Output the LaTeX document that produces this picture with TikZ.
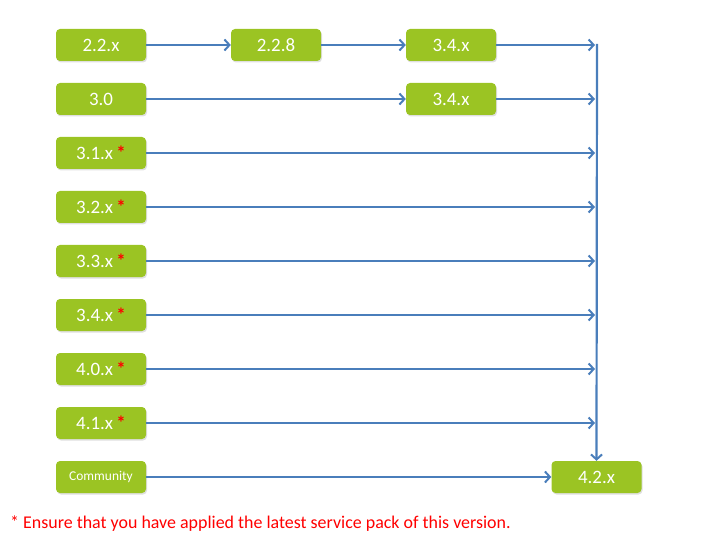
\documentclass[tikz,border=0pt]{standalone}
\usepackage{fontspec}
\setmainfont{Carlito}
\usetikzlibrary{arrows.meta,shadows}
\definecolor{vergreen}{HTML}{9BC423}
\definecolor{linkblue}{HTML}{4A7EBB}
\newcommand\redstar{\,\textcolor{red}{\textbf{*}}}
\begin{document}
\begin{tikzpicture}[x=1bp,y=-1bp,
  verstyle/.style={rectangle,rounded corners=4bp,fill=vergreen,text=white,minimum width=90bp,minimum height=32bp,inner sep=0pt,font=\fontsize{19}{22}\selectfont,drop shadow={opacity=0.25,shadow xshift=1bp,shadow yshift=-1.5bp}},
  linkstyle/.style={draw=linkblue,line width=2.2bp,-{Straight Barb[length=5bp,width=11bp,line width=2bp]}}]
\useasboundingbox (0,0) rectangle (720,540);
\node[verstyle] (v1) at (101,45) {2.2.x};
\node[verstyle] (p228) at (276,45) {2.2.8};
\node[verstyle] (p34a) at (451,45) {3.4.x};
\node[verstyle] (v2) at (101,99) {3.0};
\node[verstyle] (p34b) at (451,99) {3.4.x};
\coordinate (j1) at (595,45);
\coordinate (j2) at (595,99);
\coordinate (top) at (597,44);
\draw[linkstyle] (v1) -- (p228);
\draw[linkstyle] (p228) -- (p34a);
\draw[linkstyle] (p34a) -- (j1);
\draw[linkstyle] (v2) -- (p34b);
\draw[linkstyle] (p34b) -- (j2);
\foreach \lbl/\y [count=\i from 3] in {3.1.x/153,3.2.x/207,3.3.x/261,3.4.x/315,4.0.x/369,4.1.x/423}{
  \node[verstyle] (v\i) at (101,\y) {\lbl\redstar};
  \coordinate (j\i) at (595,\y);
  \draw[linkstyle] (v\i) -- (j\i);
}
\node[verstyle,font=\fontsize{13.5}{16}\selectfont] (vc) at (101,477) {Community};
\node[verstyle] (n42) at (596.5,477) {4.2.x};
\draw[linkstyle] (top) -- (n42.north);
\draw[linkstyle] (vc) -- (n42);
\node[anchor=base west,text=red,inner sep=0pt,font=\fontsize{18}{21}\selectfont] (note) at (10,528) {* Ensure that you have applied the latest service pack of this version.};
\end{tikzpicture}
\end{document}
